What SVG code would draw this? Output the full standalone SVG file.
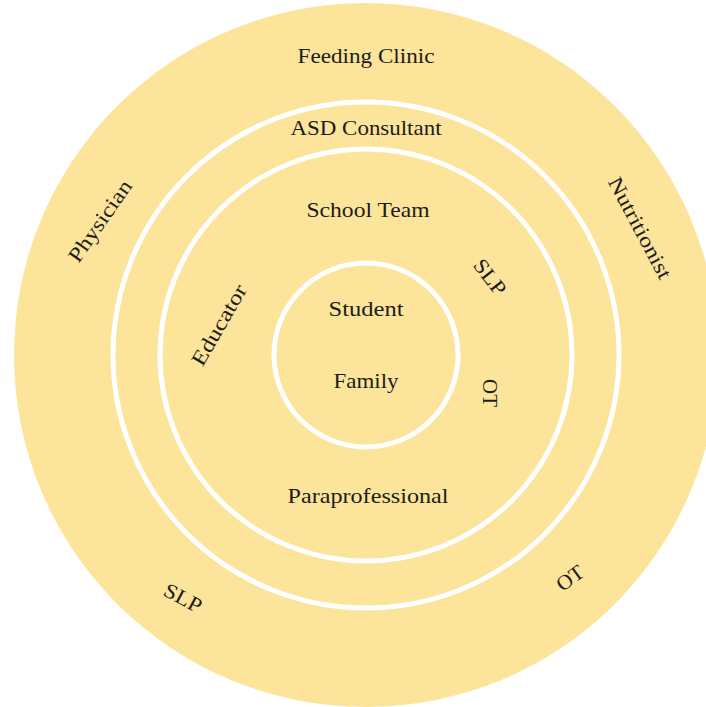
<svg xmlns="http://www.w3.org/2000/svg" width="706" height="707" viewBox="0 0 706 707">
  <style>
    .disc { fill: #FDE49B; }
    .ring { fill: none; stroke: #FFFFFF; stroke-width: 5; }
    .lbl { font-size: 21px; fill: #1C1C1C; text-anchor: middle; }
    .rot { dominant-baseline: central; }
  </style>
  <rect width="706" height="707" fill="#FFFFFF"/>

  <!-- concentric circles of support -->
  <g id="outer-circle">
    <circle class="disc" cx="366" cy="355" r="352"/>
  </g>
  <g id="rings">
    <circle class="ring" cx="366" cy="355" r="253"/>
    <circle class="ring" cx="366" cy="355" r="206"/>
    <circle class="ring" cx="366" cy="355" r="92"/>
  </g>

  <g id="labels" font-family="'Liberation Serif', 'DejaVu Serif', serif">
    <!-- outer ring: community providers -->
    <g id="feeding-clinic"><text class="lbl" x="366" y="63" textLength="137" lengthAdjust="spacingAndGlyphs">Feeding Clinic</text></g>
    <g id="physician"><text class="lbl rot" transform="translate(100 221) rotate(-55)" textLength="95" lengthAdjust="spacingAndGlyphs">Physician</text></g>
    <g id="nutritionist"><text class="lbl rot" transform="translate(640 228) rotate(62)" textLength="112" lengthAdjust="spacingAndGlyphs">Nutritionist</text></g>
    <g id="slp-outer"><text class="lbl rot" transform="translate(183 598) rotate(28)" textLength="40" lengthAdjust="spacingAndGlyphs">SLP</text></g>
    <g id="ot-outer"><text class="lbl rot" transform="translate(570 578) rotate(-36)" textLength="29" lengthAdjust="spacingAndGlyphs">OT</text></g>

    <!-- middle ring -->
    <g id="asd-consultant"><text class="lbl" x="366" y="135" textLength="151" lengthAdjust="spacingAndGlyphs">ASD Consultant</text></g>

    <!-- school team ring -->
    <g id="school-team"><text class="lbl" x="368" y="217" textLength="123" lengthAdjust="spacingAndGlyphs">School Team</text></g>
    <g id="educator"><text class="lbl rot" transform="translate(219 325) rotate(-60)" textLength="90" lengthAdjust="spacingAndGlyphs">Educator</text></g>
    <g id="slp-inner"><text class="lbl rot" transform="translate(490 277) rotate(52)" textLength="40" lengthAdjust="spacingAndGlyphs">SLP</text></g>
    <g id="ot-inner"><text class="lbl rot" transform="translate(490 393) rotate(90)" textLength="28" lengthAdjust="spacingAndGlyphs">OT</text></g>
    <g id="paraprofessional"><text class="lbl" x="368" y="503" textLength="161" lengthAdjust="spacingAndGlyphs">Paraprofessional</text></g>

    <!-- centre -->
    <g id="student"><text class="lbl" x="366" y="316" textLength="75" lengthAdjust="spacingAndGlyphs">Student</text></g>
    <g id="family"><text class="lbl" x="366" y="388" textLength="65" lengthAdjust="spacingAndGlyphs">Family</text></g>
  </g>
</svg>
